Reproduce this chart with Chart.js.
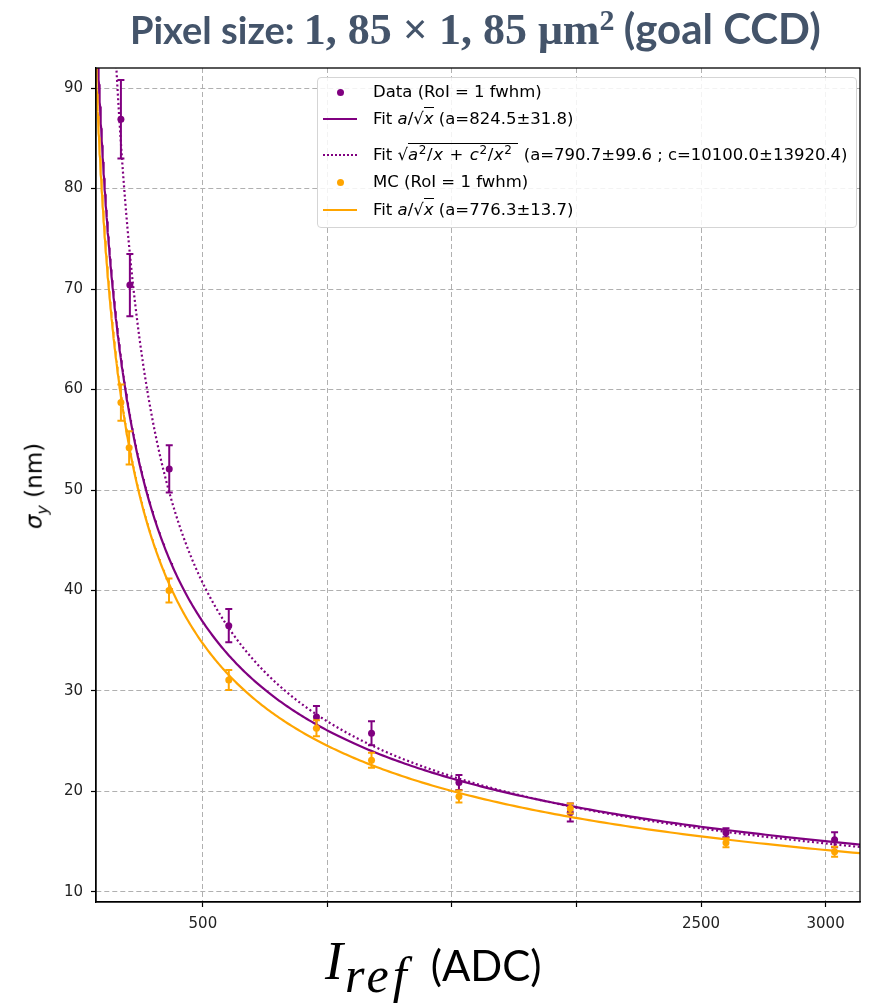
<!DOCTYPE html>
<html>
<head>
<meta charset="utf-8">
<script src="https://cdn.jsdelivr.net/npm/chart.js@4.4.0/dist/chart.umd.min.js"></script>
<style>
  html, body { margin: 0; padding: 0; background: #fff; }
  #wrap { position: relative; width: 873px; height: 1007px; overflow: hidden; background: #fff; }
  #plot { position: absolute; left: 0; top: 0; }
  #title {
    position: absolute; left: 130px; top: 3px; white-space: nowrap;
    font-family: Lato, sans-serif; font-weight: bold; font-size: 38px; color: #44546a;
  }
  #title .m { font-family: "Liberation Serif", serif; font-weight: bold; font-size: 44px; }
  #title .m sup { font-size: 30px; vertical-align: 14px; line-height: 0; }
  #title .g { font-size: 42px; }
  #xlabel {
    position: absolute; left: 325px; top: 930px; white-space: nowrap; color: #000;
  }
  #xlabel .v { font-family: "Liberation Serif", serif; font-style: italic; font-size: 54px; }
  #xlabel .s { font-family: "Liberation Serif", serif; font-style: italic; font-size: 50px; position: relative; top: 13px; letter-spacing: 4px; margin-left: 2px; }
  #xlabel .u { font-family: Lato, sans-serif; font-size: 42px; position: relative; top: 2px; margin-left: 20px; }
  #ylabel {
    position: absolute; left: 36px; top: 486px; white-space: nowrap;
    transform: translate(-50%, -50%) rotate(-90deg);
    font-family: "DejaVu Sans", sans-serif; font-size: 23px; color: #000;
  }
  #ylabel sub { font-size: 16px; }
  #legend {
    position: absolute; left: 317px; top: 77px; width: 538px; height: 149px;
    border: 1px solid #d5d5d5; border-radius: 4px; background: rgba(255,255,255,0.85);
    font-family: "DejaVu Sans", sans-serif; font-size: 16.5px; color: #000;
  }
  .row { position: absolute; left: 0; height: 20px; width: 100%; }
  .row .key { position: absolute; left: 5px; top: 10px; width: 34px; height: 0; }
  .row .txt { position: absolute; left: 55px; top: 0px; white-space: nowrap; line-height: 20px; }
  .dot { position: absolute; left: 14px; top: -3.5px; width: 7px; height: 7px; border-radius: 50%; }
  .ov { border-top: 1px solid #000; padding-top: 1px; }
  .ov.wide { padding-right: 6px; letter-spacing: 0.6px; }
  .txt i { font-style: italic; }
  .txt sup { font-size: 12px; vertical-align: 6px; line-height: 0; }
</style>
</head>
<body>
<div id="wrap">
  <canvas id="plot" width="873" height="1007"></canvas>
  <div id="title">Pixel size: <span class="m">1, 85 × 1, 85 μm<sup>2</sup></span> <span class="g">(goal CCD)</span></div>
  <div id="ylabel"><i>σ</i><sub><i>y</i></sub> (nm)</div>
  <div id="xlabel"><span class="v">I</span><span class="s">ref</span><span class="u">(ADC)</span></div>
  <div id="legend"></div>
</div>
<script>
const purple = '#800080';
const orange = '#ffa500';

// measured points (intensity in ADC, sigma_y in nm)
const xData = [171, 207, 365, 604, 956, 1177, 1528, 1975, 2600, 3036];
const yData = [86.9, 70.4, 52.1, 36.5, 27.4, 25.8, 20.9, 17.9, 15.9, 15.2];
const yDataErr = [3.9, 3.1, 2.35, 1.65, 1.1, 1.2, 0.75, 0.9, 0.45, 0.75];

// simulation
const xMC = [171, 204, 364, 604, 956, 1177, 1528, 1975, 2600, 3036];
const yMC = [58.7, 54.2, 40.0, 31.1, 26.3, 23.1, 19.5, 18.3, 14.9, 14.0];
const yMCErr = [1.8, 1.65, 1.2, 1.0, 0.8, 0.75, 0.6, 0.5, 0.45, 0.5];

// fit results
const fitA = 824.5, fitAErr = 31.8;
const fit2A = 790.7, fit2AErr = 99.6, fit2C = 10100.0, fit2CErr = 13920.4;
const fitMCA = 776.3, fitMCAErr = 13.7;

const xTicks = [500, 1000, 1500, 2000, 2500, 3000];
const xTickLabels = ['500', '', '', '', '2500', '3000'];
const yTicks = [10, 20, 30, 40, 50, 60, 70, 80, 90];

const toPoints = (xs, ys) => xs.map((x, i) => ({x: x, y: ys[i]}));
const fitX = Array.from({length: 400}, (_, i) => 60 * Math.pow(3140 / 60, i / 399));
const curve = f => fitX.map(x => ({x: x, y: f(x)}));

// legend rows
const legendRows = [
  {top: 4, kind: 'dot', color: purple, html: 'Data (RoI = 1 fwhm)'},
  {top: 31, kind: 'solid', color: purple, html: `Fit <i>a</i>/√<span class="ov"><i>x</i></span> (a=${fitA.toFixed(1)}±${fitAErr.toFixed(1)})`},
  {top: 67, kind: 'dotted', color: purple, html: `Fit √<span class="ov wide"><i>a</i><sup>2</sup>/<i>x</i> + <i>c</i><sup>2</sup>/<i>x</i><sup>2</sup></span> (a=${fit2A.toFixed(1)}±${fit2AErr.toFixed(1)} ; c=${fit2C.toFixed(1)}±${fit2CErr.toFixed(1)})`},
  {top: 94, kind: 'dot', color: orange, html: 'MC (RoI = 1 fwhm)'},
  {top: 122, kind: 'solid', color: orange, html: `Fit <i>a</i>/√<span class="ov"><i>x</i></span> (a=${fitMCA.toFixed(1)}±${fitMCAErr.toFixed(1)})`}
];
const legendEl = document.getElementById('legend');
legendRows.forEach(r => {
  let key;
  if (r.kind === 'dot') key = `<div class="key"><div class="dot" style="background:${r.color}"></div></div>`;
  else if (r.kind === 'solid') key = `<div class="key" style="border-top:2px solid ${r.color};top:9px"></div>`;
  else key = `<div class="key" style="border-top:2px dotted ${r.color};top:9px"></div>`;
  legendEl.insertAdjacentHTML('beforeend', `<div class="row" style="top:${r.top}px">${key}<div class="txt">${r.html}</div></div>`);
});

// vertical error bars with caps, drawn under each point set
const errorBars = {
  id: 'errorBars',
  beforeDatasetDraw(chart, args) {
    const ds = chart.data.datasets[args.index];
    if (!ds.yErr) return;
    const {ctx, scales: {x, y}} = chart;
    ctx.save();
    ctx.strokeStyle = ds.borderColor;
    ctx.lineWidth = 2;
    ds.data.forEach((p, i) => {
      const px = x.getPixelForValue(p.x);
      const top = y.getPixelForValue(p.y + ds.yErr[i]);
      const bot = y.getPixelForValue(p.y - ds.yErr[i]);
      ctx.beginPath();
      ctx.moveTo(px, top); ctx.lineTo(px, bot);
      ctx.moveTo(px - 3.5, top); ctx.lineTo(px + 3.5, top);
      ctx.moveTo(px - 3.5, bot); ctx.lineTo(px + 3.5, bot);
      ctx.stroke();
    });
    ctx.restore();
  }
};

// box around the plot area
const frame = {
  id: 'frame',
  afterDatasetsDraw(chart) {
    const {ctx, chartArea: a} = chart;
    ctx.save();
    ctx.strokeStyle = '#000';
    ctx.lineWidth = 1.3;
    ctx.strokeRect(a.left, a.top, a.right - a.left, a.bottom - a.top);
    ctx.restore();
  }
};

const tickFont = {family: 'DejaVu Sans', size: 15};

new Chart(document.getElementById('plot'), {
  type: 'scatter',
  data: {
    datasets: [
      {label: 'Data (RoI = 1 fwhm)', data: toPoints(xData, yData), yErr: yDataErr,
       backgroundColor: purple, borderColor: purple, pointRadius: 3.5, pointBorderWidth: 0, order: 5},
      {label: 'Fit a/sqrt(x)', data: curve(x => fitA / Math.sqrt(x)), showLine: true,
       borderColor: purple, borderWidth: 2.2, pointRadius: 0, clip: 0, order: 4},
      {label: 'Fit sqrt(a^2/x + c^2/x^2)', data: curve(x => Math.sqrt(fit2A * fit2A / x + fit2C * fit2C / (x * x))), showLine: true,
       borderColor: purple, borderWidth: 2.2, borderDash: [2, 2.6], pointRadius: 0, clip: 0, order: 3},
      {label: 'MC (RoI = 1 fwhm)', data: toPoints(xMC, yMC), yErr: yMCErr,
       backgroundColor: orange, borderColor: orange, pointRadius: 3.5, pointBorderWidth: 0, order: 2},
      {label: 'Fit a/sqrt(x) MC', data: curve(x => fitMCA / Math.sqrt(x)), showLine: true,
       borderColor: orange, borderWidth: 2.2, pointRadius: 0, clip: 0, order: 1}
    ]
  },
  options: {
    responsive: false,
    animation: false,
    layout: {padding: {left: 50, top: 68, right: 13, bottom: 75}},
    plugins: {legend: {display: false}, tooltip: {enabled: false}},
    scales: {
      x: {
        type: 'linear', min: 71, max: 3138,
        afterFit: s => { s.height = 30; },
        afterBuildTicks: s => { s.ticks = xTicks.map(v => ({value: v})); },
        ticks: {font: tickFont, color: '#222', padding: 8, maxRotation: 0, autoSkip: false,
                callback: (v, i) => xTickLabels[i]},
        grid: {color: '#b0b0b0', lineWidth: 1, tickLength: 5, tickColor: '#000', tickWidth: 1.2},
        border: {display: true, color: '#000', width: 1.3, dash: [5, 3]}
      },
      y: {
        type: 'linear', min: 9, max: 92,
        afterFit: s => { s.width = 46; },
        afterBuildTicks: s => { s.ticks = yTicks.map(v => ({value: v})); },
        ticks: {font: tickFont, color: '#222', padding: 8, autoSkip: false},
        grid: {color: '#b0b0b0', lineWidth: 1, tickLength: 5, tickColor: '#000', tickWidth: 1.2},
        border: {display: true, color: '#000', width: 1.3, dash: [5, 3]}
      }
    }
  },
  plugins: [errorBars, frame]
});
</script>
</body>
</html>
